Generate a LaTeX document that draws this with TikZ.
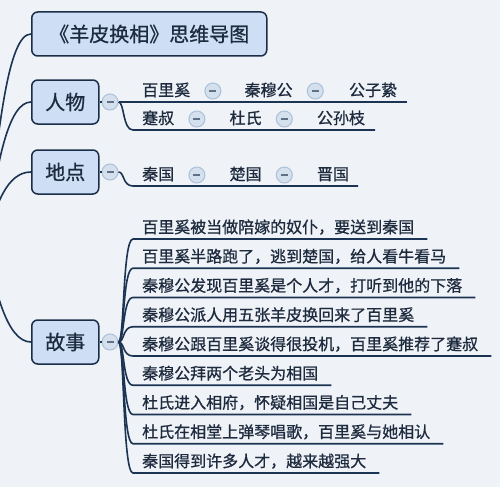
\documentclass[tikz,border=0pt]{standalone}
\usepackage{fontspec}
\setmainfont{Noto Sans CJK SC}[RawFeature={embolden=0.8}]
\usepackage{xcolor}
\usepackage{tikz}
\usetikzlibrary{
  positioning,
  calc
}
\definecolor{pagebg}{RGB}{239, 242, 247}
\definecolor{topicfill}{RGB}{206, 222, 245}
\definecolor{topicline}{RGB}{26, 46, 72}
\definecolor{branchline}{RGB}{28, 52, 84}
\definecolor{labeltext}{RGB}{30, 43, 62}
\definecolor{knobfill}{RGB}{212, 224, 238}
\definecolor{knobline}{RGB}{172, 192, 216}
\definecolor{knobbar}{RGB}{96, 112, 134}
\tikzset{
  topic/.style = {
    rectangle, rounded corners=6pt,
    draw=topicline, line width=1.5pt,
    fill=topicfill, minimum width=#1, minimum height=44pt,
    inner sep=0pt, text=labeltext,
    font=\fontsize{20}{24}\selectfont
  },
  topic/.default = 67pt,
  knob/.style = {
    circle, draw=knobline, line width=1pt,
    fill=knobfill, minimum size=16pt, inner sep=0pt,
    path picture={
      \draw[knobbar, line width=1.1pt]
        ([xshift=-3.5pt]path picture bounding box.center) --
        ([xshift=3.5pt]path picture bounding box.center);
    }
  },
  leaf/.style = {
    anchor=base west, inner sep=0pt, text=labeltext,
    text height=13pt, text depth=3pt,
    font=\fontsize{16}{19}\selectfont
  },
  br/.style = {draw=branchline, line width=1.6pt},
}

\begin{document}
\begin{tikzpicture}[x=1pt, y=-1pt]

  \fill[pagebg] (0,0) rectangle (500,487);
  \useasboundingbox (0,0) rectangle (500,487);

  \coordinate (root) at (-14,245);

  % Main topics (left)
  \node[topic=235pt, anchor=west] (title) at (31,34) {《羊皮换相》思维导图};
  \node[topic, anchor=west] (renwu) at (31,102) {人物};
  \node[topic, anchor=west] (didian) at (31,172) {地点};
  \node[topic, anchor=west] (gushi) at (31,342) {故事};

  \node[knob, right=2pt of renwu] (k_renwu) {};
  \node[knob, right=2pt of didian] (k_didian) {};
  \node[knob, right=2pt of gushi] (k_gushi) {};

  % People
  \node[leaf] (p_baili) at (142,96) {百里奚};
  \node[knob, right=14pt of p_baili] (kp1) {};
  \node[leaf, right=23pt of kp1] (p_qinmu) {秦穆公};
  \node[knob, right=14pt of p_qinmu] (kp2) {};
  \node[leaf, right=25pt of kp2] (p_gongzi) {公子絷};

  \node[leaf] (p_jianshu) at (142,124) {蹇叔};
  \node[knob, right=14pt of p_jianshu] (kp3) {};
  \node[leaf, right=24pt of kp3] (p_dushi) {杜氏};
  \node[knob, right=14pt of p_dushi] (kp4) {};
  \node[leaf, right=24pt of kp4] (p_gongsun) {公孙枝};

  % Places
  \node[leaf] (l_qin) at (142,180) {秦国};
  \node[knob, right=14pt of l_qin] (kl1) {};
  \node[leaf, right=24pt of kl1] (l_chu) {楚国};
  \node[knob, right=14pt of l_chu] (kl2) {};
  \node[leaf, right=24pt of kl2] (l_jin) {晋国};

  % Story
  \node[leaf] (s1) at (142,233) {百里奚被当做陪嫁的奴仆，要送到秦国};
  \node[leaf] (s2) at (142,262.25) {百里奚半路跑了，逃到楚国，给人看牛看马};
  \node[leaf] (s3) at (142,291.5) {秦穆公发现百里奚是个人才，打听到他的下落};
  \node[leaf] (s4) at (142,320.75) {秦穆公派人用五张羊皮换回来了百里奚};
  \node[leaf] (s5) at (142,350) {秦穆公跟百里奚谈得很投机，百里奚推荐了蹇叔};
  \node[leaf] (s6) at (142,379.25) {秦穆公拜两个老头为相国};
  \node[leaf] (s7) at (142,408.5) {杜氏进入相府，怀疑相国是自己丈夫};
  \node[leaf] (s8) at (142,437.75) {杜氏在相堂上弹琴唱歌，百里奚与她相认};
  \node[leaf] (s9) at (142,467) {秦国得到许多人才，越来越强大};

  % Spine
  \draw[br] (root) .. controls (-2,130) and (8,34) .. (title.west);
  \draw[br] (root) .. controls (-4,165) and (8,102) .. (renwu.west);
  \draw[br] (root) .. controls (-5,205) and (7,172) .. (didian.west);
  \draw[br] (root) .. controls (-5,290) and (7,342) .. (gushi.west);
  \draw[br] (renwu) -- (k_renwu);
  \draw[br] (didian) -- (k_didian);
  \draw[br] (gushi) -- (k_gushi);

  % Underlines
  \draw[br] (k_renwu.east) -- ($(p_gongzi.base east)+(10pt,-6pt)$);
  \draw[br] (k_renwu.east) .. controls ($(k_renwu.east)+(6pt,0)$) and ($(k_renwu.east |- p_jianshu.base)+(4pt,-6pt)$)
    .. ($(p_jianshu.base west)+(-9pt,-6pt)$) -- ($(p_gongsun.base east)+(10pt,-6pt)$);
  \draw[br] (k_didian.east) .. controls ($(k_didian.east)+(6pt,0)$) and ($(k_didian.east |- l_qin.base)+(4pt,-6pt)$)
    .. ($(l_qin.base west)+(-9pt,-6pt)$) -- ($(l_jin.base east)+(9pt,-6pt)$);
  \foreach \s in {s1,s2,s3,s4,s5,s6,s7,s8,s9}
    \draw[br] (k_gushi.east) .. controls ($(k_gushi.east)+(6pt,0)$) and ($(k_gushi.east |- \s.base)+(4pt,-6pt)$)
      .. ($(\s.base west)+(-9pt,-6pt)$) -- ($(\s.base east)+(13pt,-6pt)$);

\end{tikzpicture}
\end{document}
